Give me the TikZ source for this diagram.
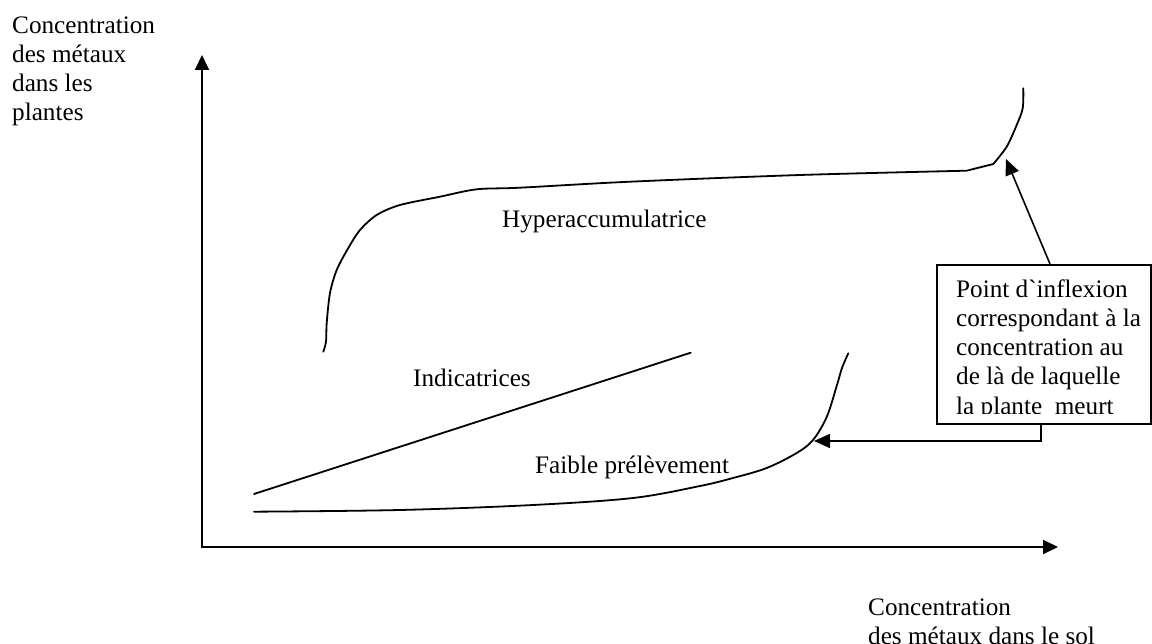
\documentclass[tikz,border=0pt]{standalone}
\usepackage{fontspec}
\setmainfont{Liberation Serif}
\usetikzlibrary{arrows.meta}
\begin{document}
\begin{tikzpicture}[x=1pt,y=-1pt,
  lbl/.style={inner sep=0pt, anchor=base west, align=left,
    font=\fontsize{25.2}{29.3}\selectfont},
  curve/.style={line width=1.8pt, line cap=round, line join=round},
  axis/.style={line width=2pt, line join=miter,
    {Triangle[length=15pt,width=14pt]}-{Triangle[length=15pt,width=14pt]}},
  pointer/.style={line width=1.6pt, -{Triangle[length=16pt,width=14pt]}},
  frame/.style={draw, line width=1.6pt, inner sep=0pt, anchor=north west}
]
\useasboundingbox (0,0) rectangle (1152,644);

% axes
\coordinate (O) at (202,547);
\coordinate (ytop) at (202,55);
\coordinate (xend) at (1058,547);
\draw[axis] (ytop) -- (O) -- (xend);

% axis titles (anchored on the baseline of their last line)
\node[lbl] (ylab) at (12,121) {Concentration\\des métaux\\dans les\\plantes};
\node[lbl] (xlab) at (868,644.3) {Concentration\\des métaux dans le sol};

% hyperaccumulator curve: steep rise, long plateau, inflexion, final rise
\draw[curve] plot[smooth, tension=0.5] coordinates {
  (323.3,351.7) (326,341.7) (326.7,323) (330,293) (336.7,270) (348.3,248)
  (360,230) (376.7,215) (400,205) (440,196.7) (476.7,189.3) (520,187.7)
  (630,181.7) (800,175) (966.7,170.7)}
  -- (993.3,164)
  -- plot[smooth, tension=0.5] coordinates {
  (993.3,164) (1006.7,146.7) (1016.7,125) (1022.7,108.3) (1023.3,88.3)};

% indicator plants: straight line
\draw[curve] (254,494) -- (690.7,352.7);

% low uptake curve
\draw[curve] plot[smooth, tension=0.55] coordinates {
  (254,511.7) (400,510) (533,505) (633,498) (700,486) (733,478)
  (766.7,468) (796.7,453) (813,440) (826.7,417) (836.7,386) (842,368)
  (848.3,353.3)};

% curve labels
\node[lbl] (hyp) at (502,228) {Hyperaccumulatrice};
\node[lbl] (ind) at (413,387) {Indicatrices};
\node[lbl] (faible) at (535,473) {Faible prélèvement};

% annotation box, its last line cut at the bottom
\node[frame, minimum width=214pt, minimum height=159pt] (box) at (936,264) {};
\begin{scope}
  \clip (936,264) rectangle (1150,414);
  \node[lbl] (boxtext) at (956,414.2)
    {Point d\textasciigrave inflexion\\correspondant à la\\concentration au\\de là de laquelle\\la plante\ \ meurt};
\end{scope}

% pointers from the box to the two curves
\coordinate (tipA) at (1006,159);
\coordinate (tipB) at (814,441);
\draw[pointer] ([xshift=114pt]box.north west) -- (tipA);
\draw[pointer] ([xshift=105pt]box.south west) |- (tipB);
\end{tikzpicture}
\end{document}
